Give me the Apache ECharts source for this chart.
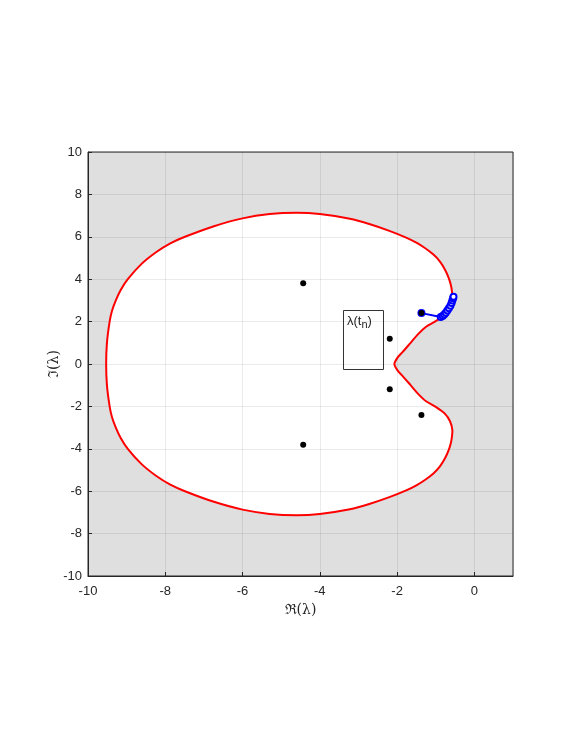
<!DOCTYPE html>
<html>
<head>
<meta charset="utf-8">
<title>Stability region</title>
<script src="https://cdn.jsdelivr.net/npm/echarts@6/dist/echarts.min.js"></script>
<style>
  html, body { margin: 0; padding: 0; background: #fff; }
  #chart { width: 582px; height: 754px; }
</style>
</head>
<body>
<div id="chart"></div>
<script>
// boundary of the stability region (closed loop)
const regionBoundary = [
  [-9.53, 0], [-9.51, 1.0], [-9.44, 2.0], [-9.38, 2.5], [-9.28, 3.0], [-9.15, 3.5],
  [-8.97, 4.0], [-8.62, 4.71], [-8.24, 5.27], [-7.87, 5.69], [-7.49, 6.0], [-6.74, 6.50],
  [-6.0, 6.87], [-5.3, 7.07], [-4.6, 7.13], [-4.0, 7.07], [-3.22, 6.85], [-2.70, 6.59],
  [-2.2, 6.28], [-1.75, 5.95], [-1.49, 5.71], [-1.28, 5.47], [-1.06, 5.16], [-0.89, 4.83],
  [-0.76, 4.45], [-0.67, 4.09], [-0.61, 3.74], [-0.58, 3.43], [-0.57, 3.11], [-0.63, 2.70],
  [-0.77, 2.33], [-1.0, 2.02], [-1.25, 1.76], [-1.45, 1.42], [-1.65, 1.0], [-1.86, 0.56],
  [-1.99, 0.3], [-2.07, 0],
  [-1.99, -0.3], [-1.86, -0.56], [-1.65, -1.0], [-1.45, -1.42], [-1.25, -1.76], [-1.0, -2.02],
  [-0.77, -2.33], [-0.63, -2.70], [-0.57, -3.11], [-0.58, -3.43], [-0.61, -3.74], [-0.67, -4.09],
  [-0.76, -4.45], [-0.89, -4.83], [-1.06, -5.16], [-1.28, -5.47], [-1.49, -5.71], [-1.75, -5.95],
  [-2.2, -6.28], [-2.70, -6.59], [-3.22, -6.85], [-4.0, -7.07], [-4.6, -7.13], [-5.3, -7.07],
  [-6.0, -6.87], [-6.74, -6.50], [-7.49, -6.0], [-7.87, -5.69], [-8.24, -5.27], [-8.62, -4.71],
  [-8.97, -4.0], [-9.15, -3.5], [-9.28, -3.0], [-9.38, -2.5], [-9.44, -2.0], [-9.51, -1.0]
]

// eigenvalues (black dots)
const eigenvalues = [
  [-4.43, 3.81], [-4.43, -3.81], [-2.19, 1.19], [-2.19, -1.19], [-1.37, 2.40], [-1.37, -2.40]
]

// path of lambda(t_n)
const lambdaPath = [
  [-1.37, 2.40], [-0.87, 2.22], [-0.82, 2.27], [-0.78, 2.34], [-0.74, 2.42], [-0.70, 2.52],
  [-0.66, 2.63], [-0.62, 2.75], [-0.59, 2.88], [-0.57, 3.00], [-0.55, 3.10], [-0.54, 3.17]
]

const xTicks = { min: -10, max: 1, interval: 2 }
const yTicks = { min: -10, max: 10, interval: 2 }

const chart = echarts.init(document.getElementById('chart'))

const axisText = { color: '#262626', fontSize: 13, fontFamily: 'Liberation Sans, Arial, sans-serif' }
const nameText = { color: '#262626', fontSize: 14, fontFamily: 'DejaVu Serif, serif' }

function axisCommon() {
  return {
    type: 'value',
    z: 2,
    nameMoveOverlap: false,
    axisLine: { show: true, onZero: false, lineStyle: { color: '#262626', width: 1 } },
    axisTick: { show: true, inside: true, length: 4, lineStyle: { color: '#262626' } },
    splitLine: { show: true, lineStyle: { color: 'rgba(0,0,0,0.08)', width: 1 } }
  }
}

// closed boundary drawn through the axes' scales
function boundarySeries(z, style) {
  return {
    type: 'custom',
    z: z,
    silent: true,
    data: [regionBoundary[0]],
    renderItem: function (params, api) {
      return {
        type: 'polygon',
        shape: { points: regionBoundary.map(p => api.coord(p)), smooth: 0.3 },
        style: style
      }
    }
  }
}

const option = {
  animation: false,
  grid: {
    left: 88, top: 152, width: 425, height: 424,
    show: true,
    backgroundColor: '#dfdfdf',
    borderColor: '#262626',
    borderWidth: 1,
    containLabel: false,
    outerBoundsMode: 'none'
  },
  xAxis: Object.assign(axisCommon(), {
    min: xTicks.min, max: xTicks.max, interval: xTicks.interval,
    axisLabel: Object.assign({ margin: 9, showMaxLabel: false }, axisText),
    name: 'ℜ(λ)',
    nameLocation: 'middle',
    nameGap: 27,
    nameTextStyle: nameText
  }),
  yAxis: Object.assign(axisCommon(), {
    min: yTicks.min, max: yTicks.max, interval: yTicks.interval,
    axisLabel: Object.assign({ margin: 6 }, axisText),
    name: 'ℑ(λ)',
    nameLocation: 'middle',
    nameGap: 27,
    nameTextStyle: nameText
  }),
  series: [
    boundarySeries(1, { fill: '#ffffff', stroke: null }),
    boundarySeries(3, { fill: null, stroke: '#ff0000', lineWidth: 2 }),
    {
      type: 'line',
      z: 4,
      data: lambdaPath,
      symbol: 'emptyCircle',
      symbolSize: 6,
      showSymbol: true,
      itemStyle: { color: '#0000ff', borderWidth: 1 },
      lineStyle: { color: '#0000ff', width: 2 }
    },
    {
      type: 'scatter',
      z: 5,
      data: eigenvalues,
      symbol: 'circle',
      symbolSize: 6,
      itemStyle: { color: '#000000', opacity: 1 }
    }
  ],
  graphic: [
    {
      type: 'rect',
      z: 10,
      left: 343, top: 310,
      shape: { width: 40, height: 59 },
      style: { fill: 'rgba(0,0,0,0)', stroke: '#333333', lineWidth: 1 }
    },
    {
      type: 'text',
      z: 10,
      left: 347, top: 315,
      style: {
        text: 'λ(t{sub|n})',
        fill: '#262626',
        font: '13px Liberation Sans, Arial, sans-serif',
        rich: {
          sub: { fontSize: 11, verticalAlign: 'bottom', padding: [6, 0, 0, 0] }
        }
      }
    }
  ]
}

chart.setOption(option)
</script>
</body>
</html>
